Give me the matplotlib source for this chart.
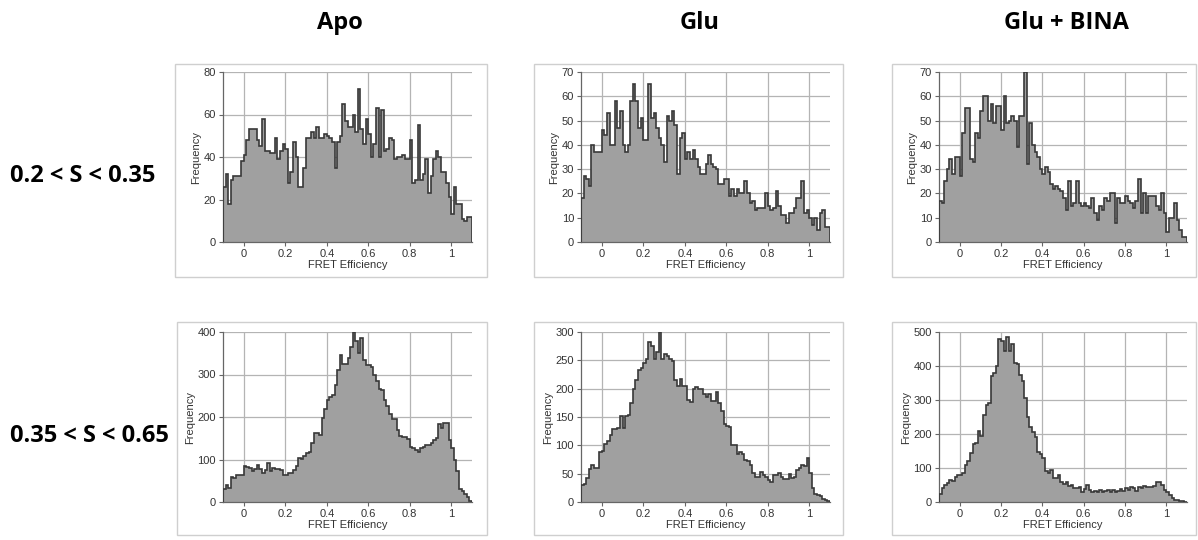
import numpy as np
import matplotlib
matplotlib.use("Agg")
import matplotlib.pyplot as plt
from matplotlib.patches import Rectangle

plt.rcParams['font.family'] = ['Liberation Sans', 'DejaVu Sans']

# FRET efficiency histograms, 96 bins from -0.1 to 1.1
edges = np.linspace(-0.1, 1.1, 97)

col_titles = ["Apo", "Glu", "Glu + BINA"]
row_titles = ["0.2 < S < 0.35", "0.35 < S < 0.65"]

apo_low = [26, 32, 18, 29, 31, 31, 31, 38,
           41, 48, 53, 53, 53, 48, 45, 58,
           43, 43, 42, 42, 49, 39, 43, 46,
           44, 28, 33, 47, 40, 26, 26, 35,
           49, 49, 52, 49, 54, 49, 49, 51,
           50, 49, 47, 35, 47, 50, 65, 57,
           54, 54, 60, 52, 72, 53, 46, 58,
           51, 40, 46, 63, 40, 62, 43, 44,
           49, 48, 39, 40, 40, 41, 39, 39,
           48, 28, 29, 55, 29, 32, 39, 23,
           31, 39, 43, 40, 33, 33, 28, 21,
           13, 26, 18, 18, 11, 10, 12, 12]

glu_low = [18, 27, 26, 23, 40, 37, 37, 37,
           46, 44, 53, 40, 40, 58, 47, 54,
           40, 37, 40, 58, 65, 58, 47, 51,
           42, 42, 65, 51, 53, 47, 43, 40,
           33, 52, 50, 54, 48, 28, 43, 45,
           34, 37, 34, 38, 34, 31, 28, 28,
           32, 36, 32, 31, 30, 24, 24, 26,
           26, 19, 22, 19, 22, 20, 20, 25,
           20, 16, 17, 13, 14, 14, 14, 20,
           15, 13, 14, 21, 15, 11, 11, 8,
           12, 12, 14, 18, 18, 25, 12, 13,
           10, 7, 10, 5, 12, 13, 6, 6]

bina_low = [17, 16, 25, 30, 34, 28, 35, 35,
            27, 45, 55, 55, 34, 33, 45, 43,
            54, 60, 60, 50, 57, 49, 56, 56,
            46, 60, 49, 50, 52, 50, 39, 52,
            52, 70, 32, 49, 40, 37, 35, 30,
            28, 31, 29, 24, 22, 23, 22, 21,
            18, 13, 25, 15, 16, 25, 16, 15,
            16, 15, 14, 18, 12, 9, 15, 13,
            18, 17, 20, 20, 8, 18, 16, 16,
            19, 17, 16, 14, 17, 26, 12, 20,
            12, 19, 19, 19, 15, 13, 20, 12,
            4, 10, 10, 16, 9, 5, 2, 2]

apo_high = [30, 40, 33, 60, 57, 63, 63, 63,
            85, 82, 80, 72, 77, 88, 78, 68,
            75, 92, 73, 80, 78, 77, 75, 63,
            63, 68, 68, 75, 85, 103, 102, 108,
            115, 118, 140, 163, 162, 158, 198, 218,
            240, 248, 252, 275, 310, 345, 325, 325,
            340, 365, 400, 380, 350, 385, 335, 322,
            322, 318, 300, 285, 265, 263, 240, 225,
            208, 195, 195, 170, 155, 152, 152, 148,
            130, 128, 122, 117, 128, 130, 135, 133,
            138, 145, 150, 183, 175, 185, 185, 145,
            128, 100, 72, 30, 25, 20, 12, 3]

glu_high = [30, 32, 43, 58, 65, 60, 60, 88,
            90, 103, 107, 118, 128, 128, 130, 151,
            130, 151, 153, 175, 200, 215, 233, 237,
            245, 252, 282, 275, 252, 265, 300, 252,
            262, 258, 252, 248, 215, 205, 217, 205,
            205, 180, 177, 200, 203, 200, 200, 190,
            185, 190, 178, 178, 195, 175, 160, 137,
            135, 133, 100, 100, 85, 88, 85, 75,
            73, 65, 52, 45, 45, 53, 48, 45,
            38, 35, 48, 47, 52, 44, 40, 40,
            50, 42, 44, 57, 60, 66, 64, 78,
            52, 25, 15, 12, 10, 5, 3, 1]

bina_high = [25, 40, 50, 55, 65, 62, 75, 80,
             80, 85, 110, 120, 145, 170, 175, 210,
             195, 255, 285, 290, 370, 380, 400, 480,
             475, 445, 485, 445, 465, 410, 405, 375,
             355, 305, 250, 220, 205, 190, 148, 140,
             130, 90, 85, 95, 72, 70, 80, 60,
             52, 60, 48, 50, 42, 42, 45, 30,
             38, 50, 35, 28, 32, 28, 35, 30,
             32, 35, 28, 35, 30, 33, 38, 32,
             42, 35, 45, 40, 32, 45, 40, 47,
             45, 45, 43, 48, 58, 58, 50, 35,
             30, 22, 12, 6, 5, 3, 2, 1]

panels = [[apo_low, glu_low, bina_low], [apo_high, glu_high, bina_high]]
yticks = [[np.arange(0, 81, 20), np.arange(0, 71, 10), np.arange(0, 71, 10)],
          [np.arange(0, 401, 100), np.arange(0, 301, 50), np.arange(0, 501, 100)]]

W, H = 1198, 540
fig = plt.figure(figsize=(W / 100, H / 100), dpi=100)

# axes boxes in pixels: left, right, top, bottom
ax_px = [[(223, 472, 72, 242), (581, 830, 72, 242), (939, 1187, 72, 242)],
         [(223, 472, 332, 502), (581, 830, 332, 502), (939, 1187, 332, 502)]]
frame_px = [[(175, 487, 64, 277), (534, 843, 64, 277), (892, 1196, 64, 277)],
            [(177, 487, 322, 535), (534, 843, 322, 535), (892, 1196, 322, 535)]]

for r in range(2):
    for c in range(3):
        fl, fr, ft, fb = frame_px[r][c]
        fig.patches.append(Rectangle((fl / W, 1 - fb / H), (fr - fl) / W, (fb - ft) / H,
                                     transform=fig.transFigure, fill=False,
                                     edgecolor="#cfcfcf", linewidth=1.0))
        l, rr, t, b = ax_px[r][c]
        ax = fig.add_axes([l / W, 1 - b / H, (rr - l) / W, (b - t) / H])
        vals = panels[r][c]
        ax.stairs(vals, edges, fill=True, color="#a0a0a0", zorder=2)
        ax.stairs(vals, edges, color="#383838", linewidth=1.2, zorder=3)
        ax.set_xlim(-0.1, 1.1)
        yt = yticks[r][c]
        ax.set_ylim(0, yt[-1])
        ax.set_yticks(yt)
        ax.set_xticks([0, 0.2, 0.4, 0.6, 0.8, 1.0])
        ax.set_xticklabels(["0", "0.2", "0.4", "0.6", "0.8", "1"])
        ax.grid(True, color="#b4b4b4", linewidth=0.9)
        ax.set_axisbelow(True)
        for s in ["top", "right"]:
            ax.spines[s].set_visible(False)
        for s in ["left", "bottom"]:
            ax.spines[s].set_color("#666666")
            ax.spines[s].set_linewidth(0.9)
        ax.tick_params(labelsize=8, length=3, width=0.8, color="#666666", pad=2,
                       labelcolor="#333333")
        ax.set_xlabel("FRET Efficiency", fontsize=8, color="#333333", labelpad=1)
        ax.set_ylabel("Frequency", fontsize=8, color="#333333", labelpad=2)
        ax.set_facecolor("white")

title_x = [340, 700, 1066]
for c, t in enumerate(col_titles):
    fig.text(title_x[c] / W, 1 - 23 / H, t, ha="center", va="center",
             fontsize=17, fontweight="bold", family="Open Sans")

row_y = [176, 436]
for r, t in enumerate(row_titles):
    fig.text(10 / W, 1 - row_y[r] / H, t, ha="left", va="center",
             fontsize=17, fontweight="bold", family="Open Sans")

fig.savefig("out.png", dpi=100)
